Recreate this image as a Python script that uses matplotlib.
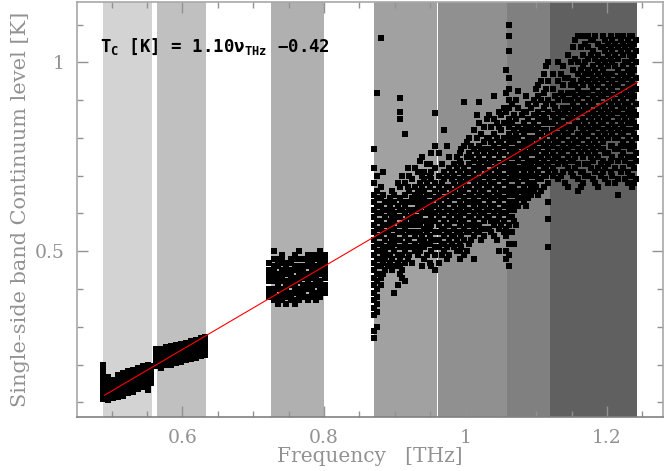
import numpy as np
import matplotlib
matplotlib.use('Agg')
import matplotlib.pyplot as plt
from matplotlib.ticker import FixedLocator, MultipleLocator

# observing bands (THz) and their shading
band_lo = [0.488, 0.564, 0.725, 0.870, 0.9612, 1.059, 1.120]
band_hi = [0.5565, 0.634, 0.800, 0.9595, 1.059, 1.120, 1.2425]
band_col = ['#d3d3d3', '#c0c0c0', '#b0b0b0', '#a1a1a1', '#909090', '#808080', '#606060']

# linear fit T_C = a*nu + b
fit_a = 1.10
fit_b = -0.42
fit_range = [0.490, 1.243]

# measured continuum levels, grouped by channel frequency
b1_freq = [0.488, 0.495, 0.502, 0.509, 0.516, 0.523, 0.530, 0.537, 0.544, 0.551, 0.556]
b1_lev = [
    [0.110, 0.122, 0.134, 0.146, 0.158, 0.172, 0.185, 0.198],
    [0.106, 0.118, 0.130, 0.142, 0.154, 0.166],
    [0.112, 0.124, 0.136, 0.148, 0.160],
    [0.115, 0.127, 0.139, 0.151, 0.163, 0.173],
    [0.118, 0.130, 0.142, 0.154, 0.166, 0.178],
    [0.125, 0.137, 0.149, 0.161, 0.173, 0.183],
    [0.128, 0.140, 0.152, 0.164, 0.176, 0.186],
    [0.135, 0.147, 0.159, 0.171, 0.183, 0.192],
    [0.140, 0.152, 0.164, 0.176, 0.188, 0.197],
    [0.132, 0.145, 0.157, 0.169, 0.181, 0.193, 0.200],
    [0.150, 0.162, 0.174, 0.186, 0.196],
]

b2_freq = [0.563, 0.570, 0.577, 0.584, 0.591, 0.598, 0.605, 0.612, 0.619, 0.626, 0.632]
b2_lev = [
    [0.195, 0.207, 0.219, 0.231, 0.241],
    [0.192, 0.204, 0.216, 0.228, 0.240],
    [0.198, 0.210, 0.222, 0.234, 0.246],
    [0.200, 0.212, 0.224, 0.236, 0.248],
    [0.205, 0.217, 0.229, 0.241, 0.252],
    [0.207, 0.219, 0.231, 0.243, 0.255],
    [0.212, 0.224, 0.236, 0.248, 0.258],
    [0.214, 0.226, 0.238, 0.250, 0.262],
    [0.218, 0.230, 0.242, 0.254, 0.266],
    [0.222, 0.234, 0.246, 0.258, 0.270],
    [0.226, 0.238, 0.250, 0.262, 0.274],
]

b3_freq = [0.723, 0.729, 0.735, 0.741, 0.747, 0.753, 0.759, 0.765, 0.771, 0.777,
           0.783, 0.789, 0.795, 0.801]
b3_lev = [
    [0.38, 0.39, 0.40, 0.42, 0.43, 0.44, 0.45, 0.47],
    [0.37, 0.38, 0.39, 0.40, 0.42, 0.43, 0.44, 0.45, 0.46, 0.48, 0.50],
    [0.36, 0.37, 0.38, 0.40, 0.41, 0.42, 0.43, 0.44, 0.46, 0.47, 0.48],
    [0.37, 0.38, 0.39, 0.40, 0.42, 0.43, 0.44, 0.45, 0.47, 0.48, 0.49],
    [0.36, 0.38, 0.39, 0.40, 0.41, 0.42, 0.44, 0.45, 0.46, 0.47],
    [0.37, 0.38, 0.39, 0.41, 0.42, 0.43, 0.44, 0.45, 0.47, 0.48],
    [0.36, 0.37, 0.39, 0.40, 0.41, 0.42, 0.43, 0.45, 0.46, 0.48, 0.49],
    [0.37, 0.38, 0.39, 0.40, 0.42, 0.43, 0.44, 0.45, 0.46, 0.48, 0.50],
    [0.38, 0.39, 0.40, 0.41, 0.43, 0.44, 0.45, 0.46, 0.48],
    [0.37, 0.38, 0.40, 0.41, 0.42, 0.43, 0.44, 0.46, 0.47, 0.48, 0.49],
    [0.38, 0.39, 0.40, 0.41, 0.43, 0.44, 0.45, 0.46, 0.47, 0.48, 0.49],
    [0.37, 0.38, 0.39, 0.41, 0.42, 0.43, 0.44, 0.45, 0.46, 0.48, 0.49],
    [0.38, 0.39, 0.40, 0.41, 0.42, 0.44, 0.45, 0.46, 0.47, 0.48, 0.49, 0.50],
    [0.39, 0.40, 0.41, 0.43, 0.44, 0.45, 0.46, 0.47, 0.48, 0.49],
]

b4_freq = [0.870, 0.8748, 0.8803, 0.8857, 0.8934, 0.8996, 0.9068, 0.9147, 0.9206,
           0.9284, 0.9353, 0.9419, 0.9496, 0.9563,
           0.8829, 0.8902, 0.8961, 0.9041, 0.9098, 0.9181, 0.9239, 0.9322, 0.9379,
           0.9461, 0.9518]
b4_lev = [
    [0.27, 0.29, 0.33, 0.35, 0.37, 0.39, 0.41, 0.43, 0.45, 0.47, 0.49, 0.51, 0.53,
     0.55, 0.57, 0.59, 0.61, 0.63, 0.65, 0.68, 0.72, 0.77],
    [0.30, 0.34, 0.36, 0.38, 0.40, 0.42, 0.44, 0.46, 0.48, 0.50, 0.52, 0.54, 0.56,
     0.58, 0.60, 0.62, 0.64, 0.66, 0.70, 0.92],
    [0.41, 0.43, 0.46, 0.48, 0.50, 0.52, 0.54, 0.56, 0.58, 0.60, 0.62, 0.64, 0.67, 1.065],
    [0.45, 0.48, 0.50, 0.53, 0.55, 0.57, 0.59, 0.61, 0.63],
    [0.47, 0.49, 0.52, 0.54, 0.56, 0.58, 0.60, 0.62, 0.64],
    [0.39, 0.46, 0.50, 0.52, 0.54, 0.56, 0.58, 0.60, 0.63, 0.65],
    [0.44, 0.46, 0.48, 0.51, 0.53, 0.55, 0.57, 0.59, 0.61, 0.64, 0.67, 0.85, 0.87, 0.905],
    [0.42, 0.47, 0.50, 0.52, 0.54, 0.56, 0.58, 0.60, 0.62, 0.65, 0.68, 0.81],
    [0.49, 0.51, 0.53, 0.55, 0.57, 0.59, 0.61, 0.63, 0.66, 0.70],
    [0.50, 0.52, 0.54, 0.57, 0.59, 0.61, 0.63, 0.65, 0.67, 0.72],
    [0.50, 0.53, 0.55, 0.57, 0.59, 0.61, 0.63, 0.65, 0.68, 0.74],
    [0.48, 0.51, 0.53, 0.56, 0.58, 0.60, 0.62, 0.64, 0.66, 0.69, 0.71],
    [0.47, 0.52, 0.54, 0.56, 0.58, 0.60, 0.62, 0.65, 0.67, 0.70, 0.73],
    [0.45, 0.49, 0.51, 0.53, 0.55, 0.58, 0.60, 0.62, 0.64, 0.66, 0.68, 0.72, 0.78, 0.865],
    [0.44, 0.47, 0.49, 0.51, 0.55, 0.57, 0.61, 0.65, 0.71],
    [0.46, 0.49, 0.51, 0.55, 0.57, 0.61, 0.63],
    [0.45, 0.48, 0.51, 0.53, 0.57, 0.59, 0.61, 0.66],
    [0.41, 0.47, 0.49, 0.53, 0.55, 0.59, 0.62, 0.68],
    [0.43, 0.45, 0.49, 0.51, 0.55, 0.57, 0.61, 0.63, 0.70],
    [0.48, 0.51, 0.53, 0.57, 0.59, 0.63, 0.67, 0.72],
    [0.47, 0.51, 0.55, 0.58, 0.60, 0.64, 0.69],
    [0.49, 0.51, 0.55, 0.58, 0.62, 0.64, 0.66, 0.71],
    [0.46, 0.52, 0.54, 0.58, 0.60, 0.63, 0.67, 0.70, 0.75],
    [0.49, 0.52, 0.55, 0.57, 0.61, 0.63, 0.65, 0.68, 0.73],
    [0.46, 0.50, 0.53, 0.57, 0.59, 0.61, 0.63, 0.69, 0.71, 0.76],
]

b5_freq = [0.9628, 0.9697, 0.9772, 0.9836, 0.9915, 0.9979, 1.0054, 1.0117, 1.0196,
           1.0257, 1.0334, 1.0398, 1.0473, 1.0541,
           0.9661, 0.9741, 0.9802, 0.9881, 0.9941, 1.0022, 1.0081, 1.0162, 1.0221,
           1.0301, 1.0359, 1.0441, 1.0502]
b5_lev = [
    [0.47, 0.51, 0.53, 0.55, 0.57, 0.59, 0.61, 0.63, 0.65, 0.67, 0.70, 0.76],
    [0.50, 0.52, 0.54, 0.56, 0.58, 0.60, 0.62, 0.64, 0.66, 0.69, 0.71, 0.82],
    [0.49, 0.53, 0.55, 0.57, 0.59, 0.61, 0.63, 0.65, 0.67, 0.72, 0.75],
    [0.51, 0.54, 0.56, 0.58, 0.60, 0.62, 0.64, 0.66, 0.68, 0.70, 0.73],
    [0.48, 0.50, 0.52, 0.55, 0.57, 0.59, 0.61, 0.63, 0.65, 0.67, 0.69, 0.71, 0.74, 0.76],
    [0.49, 0.53, 0.56, 0.58, 0.60, 0.62, 0.64, 0.66, 0.68, 0.70, 0.72, 0.78, 0.895],
    [0.52, 0.55, 0.57, 0.59, 0.61, 0.63, 0.65, 0.67, 0.69, 0.71, 0.73, 0.76, 0.80],
    [0.48, 0.54, 0.56, 0.58, 0.60, 0.62, 0.64, 0.66, 0.68, 0.70, 0.72, 0.74, 0.77, 0.82],
    [0.55, 0.57, 0.59, 0.61, 0.63, 0.65, 0.67, 0.69, 0.71, 0.73, 0.75, 0.78, 0.84, 0.895],
    [0.54, 0.58, 0.60, 0.62, 0.64, 0.66, 0.68, 0.70, 0.72, 0.74, 0.76, 0.79, 0.83],
    [0.56, 0.59, 0.61, 0.63, 0.65, 0.67, 0.69, 0.71, 0.73, 0.75, 0.77, 0.80, 0.86],
    [0.54, 0.57, 0.60, 0.62, 0.64, 0.66, 0.68, 0.70, 0.72, 0.74, 0.76, 0.78, 0.81, 0.85, 0.91],
    [0.50, 0.56, 0.59, 0.61, 0.63, 0.65, 0.67, 0.69, 0.71, 0.73, 0.75, 0.77, 0.79, 0.83, 0.87],
    [0.55, 0.58, 0.60, 0.62, 0.64, 0.66, 0.68, 0.70, 0.72, 0.74, 0.76, 0.78, 0.80, 0.84, 0.88],
    [0.49, 0.52, 0.56, 0.60, 0.62, 0.66, 0.68, 0.73],
    [0.48, 0.51, 0.55, 0.57, 0.61, 0.63, 0.67, 0.70, 0.78],
    [0.52, 0.54, 0.58, 0.60, 0.64, 0.66, 0.69, 0.71],
    [0.50, 0.53, 0.55, 0.59, 0.61, 0.65, 0.67, 0.72, 0.75],
    [0.51, 0.54, 0.58, 0.60, 0.62, 0.66, 0.68, 0.73, 0.77],
    [0.50, 0.55, 0.57, 0.61, 0.63, 0.67, 0.69, 0.71, 0.75, 0.79],
    [0.53, 0.57, 0.59, 0.63, 0.65, 0.69, 0.71, 0.75, 0.78],
    [0.55, 0.57, 0.61, 0.63, 0.67, 0.69, 0.72, 0.76, 0.80, 0.86],
    [0.53, 0.56, 0.60, 0.62, 0.66, 0.68, 0.72, 0.74, 0.77, 0.81],
    [0.56, 0.59, 0.61, 0.65, 0.67, 0.71, 0.73, 0.77, 0.80, 0.85],
    [0.55, 0.58, 0.62, 0.64, 0.68, 0.70, 0.74, 0.76, 0.79, 0.83],
    [0.53, 0.58, 0.61, 0.65, 0.67, 0.71, 0.73, 0.77, 0.80, 0.84],
    [0.57, 0.60, 0.64, 0.66, 0.70, 0.72, 0.76, 0.79, 0.82, 0.86],
]

b6_freq = [1.0612, 1.0683, 1.0746, 1.0824, 1.0887, 1.0963, 1.1028, 1.1104, 1.1168,
           1.0577, 1.0651, 1.0712, 1.0791, 1.0852, 1.0931, 1.0992, 1.1069, 1.1133]
b6_lev = [
    [0.46, 0.49, 0.52, 0.55, 0.57, 0.59, 0.61, 0.63, 0.65, 0.67, 0.69, 0.71, 0.73,
     0.75, 0.77, 0.79, 0.81, 0.83, 0.85, 0.88, 0.90, 0.93, 0.96, 1.03, 1.07, 1.10],
    [0.52, 0.58, 0.61, 0.63, 0.65, 0.67, 0.69, 0.71, 0.73, 0.75, 0.77, 0.79, 0.82, 0.86],
    [0.62, 0.64, 0.66, 0.68, 0.70, 0.72, 0.74, 0.76, 0.78, 0.80, 0.83, 0.88, 0.925],
    [0.63, 0.65, 0.67, 0.69, 0.71, 0.73, 0.75, 0.77, 0.79, 0.81, 0.84, 0.87],
    [0.64, 0.66, 0.68, 0.70, 0.72, 0.74, 0.76, 0.78, 0.80, 0.82, 0.85, 0.89],
    [0.66, 0.68, 0.70, 0.72, 0.74, 0.76, 0.78, 0.80, 0.82, 0.84, 0.86, 0.90],
    [0.65, 0.69, 0.71, 0.73, 0.75, 0.77, 0.79, 0.81, 0.83, 0.85, 0.87, 0.91, 0.94],
    [0.67, 0.70, 0.72, 0.74, 0.76, 0.78, 0.80, 0.82, 0.84, 0.86, 0.88, 0.92, 0.97],
    [0.51, 0.585, 0.63, 0.68, 0.71, 0.73, 0.75, 0.77, 0.79, 0.81, 0.84, 0.87, 0.90, 0.95, 1.00],
    [0.48, 0.50, 0.54, 0.56, 0.60, 0.62, 0.66, 0.68, 0.72, 0.74, 0.78, 0.80, 0.84, 0.87, 0.92, 0.98],
    [0.55, 0.59, 0.62, 0.66, 0.70, 0.72, 0.76, 0.80, 0.84, 0.89],
    [0.57, 0.63, 0.65, 0.69, 0.71, 0.75, 0.77, 0.81, 0.85, 0.90],
    [0.64, 0.66, 0.70, 0.72, 0.76, 0.78, 0.82, 0.86],
    [0.62, 0.65, 0.69, 0.73, 0.75, 0.79, 0.83, 0.87, 0.91],
    [0.65, 0.67, 0.71, 0.73, 0.77, 0.79, 0.83, 0.88],
    [0.67, 0.70, 0.74, 0.76, 0.80, 0.82, 0.86, 0.89, 0.93],
    [0.66, 0.69, 0.73, 0.75, 0.79, 0.81, 0.85, 0.90, 0.95],
    [0.70, 0.72, 0.76, 0.78, 0.82, 0.85, 0.89, 0.93, 0.99],
]

b7_freq = [1.1236, 1.1307, 1.1382, 1.1446, 1.1524, 1.1593, 1.1658, 1.1734, 1.1797,
           1.1872, 1.1938, 1.2013, 1.2076, 1.2154, 1.2219, 1.2293, 1.2357, 1.2411,
           1.1271, 1.1352, 1.1411, 1.1489, 1.1551, 1.1631, 1.1692, 1.1771, 1.1832,
           1.1909, 1.1972, 1.2049, 1.2111, 1.2191, 1.2252, 1.2328, 1.2382]
b7_lev = [
    [0.70, 0.72, 0.74, 0.76, 0.78, 0.80, 0.82, 0.84, 0.86, 0.89, 0.93, 0.97],
    [0.69, 0.73, 0.75, 0.77, 0.79, 0.81, 0.83, 0.85, 0.87, 0.90, 0.95, 1.00],
    [0.71, 0.74, 0.76, 0.78, 0.80, 0.82, 0.84, 0.86, 0.88, 0.91, 0.94, 0.99],
    [0.67, 0.72, 0.75, 0.77, 0.79, 0.81, 0.83, 0.85, 0.88, 0.92, 0.96, 1.02],
    [0.70, 0.74, 0.76, 0.78, 0.80, 0.83, 0.85, 0.87, 0.89, 0.92, 0.95, 0.98, 1.04],
    [0.66, 0.69, 0.73, 0.77, 0.79, 0.81, 0.84, 0.86, 0.88, 0.90, 0.93, 0.97, 1.00, 1.07],
    [0.68, 0.71, 0.75, 0.78, 0.80, 0.82, 0.85, 0.87, 0.89, 0.91, 0.94, 0.96, 0.99, 1.02, 1.07],
    [0.70, 0.73, 0.76, 0.79, 0.81, 0.83, 0.86, 0.88, 0.90, 0.92, 0.95, 0.98, 1.01, 1.04, 1.07],
    [0.69, 0.74, 0.77, 0.80, 0.82, 0.84, 0.87, 0.89, 0.91, 0.93, 0.96, 0.99, 1.03, 1.06],
    [0.67, 0.72, 0.75, 0.78, 0.81, 0.83, 0.85, 0.88, 0.90, 0.92, 0.94, 0.97, 1.00, 1.02, 1.05],
    [0.71, 0.74, 0.77, 0.79, 0.82, 0.84, 0.86, 0.89, 0.91, 0.93, 0.95, 0.98, 1.01, 1.04, 1.07],
    [0.68, 0.73, 0.76, 0.80, 0.83, 0.85, 0.87, 0.90, 0.92, 0.94, 0.96, 0.99, 1.02, 1.05],
    [0.70, 0.75, 0.78, 0.81, 0.84, 0.86, 0.88, 0.91, 0.93, 0.95, 0.97, 1.00, 1.03, 1.06],
    [0.65, 0.69, 0.74, 0.77, 0.80, 0.82, 0.85, 0.87, 0.89, 0.92, 0.94, 0.96, 0.98, 1.01, 1.04, 1.07],
    [0.72, 0.76, 0.79, 0.81, 0.83, 0.86, 0.88, 0.90, 0.93, 0.95, 0.97, 0.99, 1.02, 1.05, 1.07],
    [0.68, 0.71, 0.75, 0.78, 0.80, 0.84, 0.87, 0.89, 0.91, 0.94, 0.96, 0.98, 1.00, 1.03, 1.06],
    [0.67, 0.70, 0.73, 0.77, 0.79, 0.82, 0.85, 0.88, 0.90, 0.92, 0.95, 0.97, 0.99, 1.01, 1.04, 1.07],
    [0.69, 0.74, 0.76, 0.80, 0.83, 0.86, 0.89, 0.93, 0.96, 1.00, 1.03, 1.06],
    [0.71, 0.75, 0.79, 0.81, 0.85, 0.88, 0.91],
    [0.70, 0.74, 0.76, 0.80, 0.84, 0.86, 0.92, 0.97],
    [0.68, 0.73, 0.77, 0.81, 0.83, 0.87, 0.90, 0.96],
    [0.71, 0.74, 0.78, 0.82, 0.86, 0.90, 0.94, 1.00],
    [0.72, 0.75, 0.79, 0.84, 0.88, 0.91, 0.94, 1.01, 1.06],
    [0.67, 0.71, 0.76, 0.80, 0.83, 0.87, 0.92, 0.95, 0.98, 1.04, 1.07],
    [0.70, 0.73, 0.77, 0.81, 0.84, 0.88, 0.92, 0.97, 1.00, 1.05],
    [0.72, 0.75, 0.78, 0.82, 0.85, 0.89, 0.94, 0.97, 1.02, 1.06],
    [0.68, 0.71, 0.76, 0.79, 0.83, 0.86, 0.90, 0.95, 0.98, 1.01, 1.07],
    [0.70, 0.73, 0.77, 0.80, 0.84, 0.87, 0.91, 0.96, 0.99, 1.04],
    [0.69, 0.72, 0.76, 0.81, 0.85, 0.88, 0.92, 0.97, 1.00, 1.03, 1.06],
    [0.71, 0.74, 0.78, 0.82, 0.86, 0.89, 0.93, 0.97, 1.01, 1.04, 1.07],
    [0.68, 0.72, 0.77, 0.80, 0.83, 0.87, 0.90, 0.94, 0.99, 1.02, 1.05],
    [0.71, 0.75, 0.78, 0.81, 0.84, 0.88, 0.91, 0.95, 0.97, 1.03, 1.06],
    [0.69, 0.74, 0.78, 0.82, 0.85, 0.89, 0.92, 0.96, 1.00, 1.04],
    [0.70, 0.73, 0.77, 0.82, 0.86, 0.88, 0.93, 0.97, 1.02, 1.05, 1.07],
    [0.68, 0.72, 0.75, 0.78, 0.81, 0.84, 0.87, 0.91, 0.94, 0.98, 1.02, 1.05],
]

x_major = [0.6, 0.8, 1.0, 1.2]
x_labels = ['0.6', '0.8', '1', '1.2']
y_major = [0.5, 1.0]
y_labels = ['0.5', '1']

all_freq = [b1_freq, b2_freq, b3_freq, b4_freq, b5_freq, b6_freq, b7_freq]
all_lev = [b1_lev, b2_lev, b3_lev, b4_lev, b5_lev, b6_lev, b7_lev]

xs = []
ys = []
for freqs, levs in zip(all_freq, all_lev):
    for f, lv in zip(freqs, levs):
        xs += [f] * len(lv)
        ys += lv

gray = '#929292'
fig = plt.figure(figsize=(6.64, 4.71), dpi=100)
ax = fig.add_axes([0.1155, 0.1153, 0.883, 0.8805])

for lo, hi, c in zip(band_lo, band_hi, band_col):
    ax.axvspan(lo, hi, color=c, lw=0, zorder=0)

ax.plot(xs, ys, 's', ms=3.7, mew=0, color='k', zorder=2)

fx = np.array(fit_range)
ax.plot(fx, fit_a * fx + fit_b, color='#ff0000', lw=0.8, zorder=3)

ax.set_xlim(0.4506, 1.279)
ax.set_ylim(0.062, 1.16)

ax.xaxis.set_major_locator(FixedLocator(x_major))
ax.set_xticklabels(x_labels)
ax.xaxis.set_minor_locator(MultipleLocator(0.05))
ax.yaxis.set_major_locator(FixedLocator(y_major))
ax.set_yticklabels(y_labels)
ax.yaxis.set_minor_locator(MultipleLocator(0.1))

ax.tick_params(which='both', direction='in', top=True, right=True, color=gray,
               labelcolor=gray, labelsize=13.5, pad=9)
ax.tick_params(which='major', length=8, width=1)
ax.tick_params(which='minor', length=4.5, width=1)
for lab in ax.get_xticklabels() + ax.get_yticklabels():
    lab.set_family('DejaVu Serif')

for s in ax.spines.values():
    s.set_color('#a8a8a8')
    s.set_linewidth(1.2)
ax.spines['bottom'].set_color('#808080')

ax.set_xlabel('Frequency   [THz]', family='DejaVu Serif', fontsize=14.5, color=gray,
              labelpad=0)
ax.set_ylabel('Single-side band Continuum level [K]', family='DejaVu Serif',
              fontsize=15, color=gray, labelpad=3)

ax.text(0.4835, 1.027, 'T$_\\mathregular{C}$ [K] = 1.10ν$_\\mathregular{THz}$ −0.42',
        family=['DejaVu Sans Mono'], fontweight='bold',
        fontsize=12.5, color='k', va='baseline', ha='left', zorder=4)

fig.savefig('out.png', dpi=100)
